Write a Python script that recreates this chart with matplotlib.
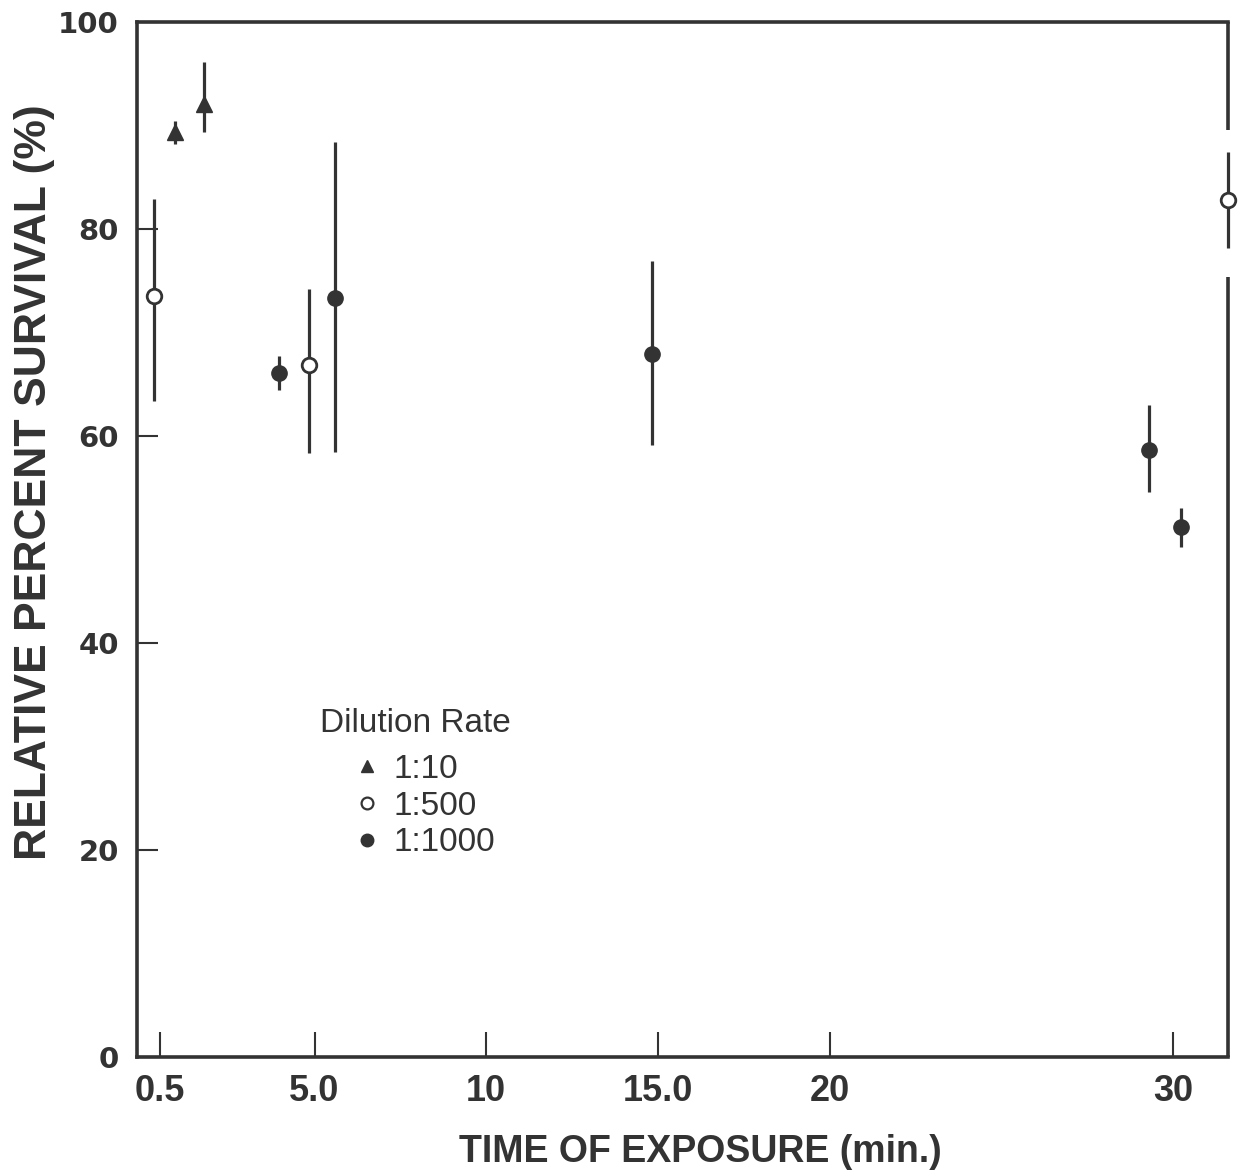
import matplotlib
matplotlib.use("Agg")
import matplotlib.pyplot as plt
from matplotlib.lines import Line2D

# ---- data ----
# Dilution 1:10 (triangles)
x_110 = [0.94, 1.78]
y_110 = [89.4, 92.1]
lo_110 = [88.2, 89.4]
hi_110 = [90.4, 96.1]

# Dilution 1:500 (open circles)
x_1500 = [0.33, 4.84, 31.6]
y_1500 = [73.5, 66.9, 82.8]
lo_1500 = [63.4, 58.4, 78.2]
hi_1500 = [82.9, 74.2, 87.4]

# Dilution 1:1000 (filled circles)
x_11000 = [3.96, 5.6, 14.83, 29.3, 30.23]
y_11000 = [66.1, 73.3, 67.9, 58.6, 51.2]
lo_11000 = [64.4, 58.5, 59.1, 54.6, 49.3]
hi_11000 = [67.7, 88.4, 76.9, 63.0, 53.0]

x_ticks = [0.5, 5.0, 10, 15.0, 20, 30]
x_ticklabels = ["0.5", "5.0", "10", "15.0", "20", "30"]
y_ticks = [0, 20, 40, 60, 80, 100]
y_ticklabels = ["0", "20", "40", "60", "80", "100"]

legend_title = "Dilution Rate"
legend_labels = ["1:10", "1:500", "1:1000"]

INK = "#333333"

fig = plt.figure(figsize=(12.4, 11.75), dpi=100)
ax = fig.add_axes([137 / 1240, 1 - 1057 / 1175, (1228 - 137) / 1240, (1057 - 22) / 1175])


def errs(y, lo, hi):
    return [[a - b for a, b in zip(y, lo)], [c - a for a, c in zip(y, hi)]]


common = dict(ls="none", ecolor=INK, elinewidth=2.3, capsize=0, clip_on=False, zorder=3)
e1 = ax.errorbar(x_110, y_110, yerr=errs(y_110, lo_110, hi_110), marker="^", ms=11,
                 mfc=INK, mec=INK, **common)
e2 = ax.errorbar(x_1500, y_1500, yerr=errs(y_1500, lo_1500, hi_1500), marker="o", ms=10.5,
                 mfc="white", mec=INK, mew=2.0, **common)
e3 = ax.errorbar(x_11000, y_11000, yerr=errs(y_11000, lo_11000, hi_11000), marker="o", ms=11,
                 mfc=INK, mec=INK, **common)
for c in (e1, e2, e3):
    for ln in c.lines[2]:
        ln.set_clip_on(False)

ax.set_xlim(-0.17, 31.6)
ax.set_ylim(0, 100)

# spines
for side in ("left", "bottom", "top"):
    ax.spines[side].set_linewidth(2.6)
    ax.spines[side].set_color(INK)
ax.spines["right"].set_visible(False)
tr = ax.get_yaxis_transform()
ax.plot([1, 1], [0, 75.4], transform=tr, color=INK, lw=2.6, clip_on=False, solid_capstyle="butt")
ax.plot([1, 1], [89.6, 100], transform=tr, color=INK, lw=2.6, clip_on=False, solid_capstyle="butt")

ax.set_xticks(x_ticks)
ax.set_xticklabels(x_ticklabels, fontfamily="Liberation Sans", fontweight="bold", fontsize=26, color=INK)
ax.set_yticks(y_ticks)
ax.set_yticklabels(y_ticklabels, fontfamily="DejaVu Sans", fontweight="bold", fontsize=21, color=INK)
ax.tick_params(axis="x", direction="in", length=18, width=1.5, color=INK, pad=12)
ax.tick_params(axis="y", direction="in", length=15, width=1.5, color=INK, pad=13)

ax.set_xlabel("TIME OF EXPOSURE (min.)", fontfamily="Liberation Sans", fontweight="bold",
              fontsize=27, color=INK)
ax.xaxis.set_label_coords(0.516, -0.0745)
ax.set_ylabel("RELATIVE PERCENT SURVIVAL (%)", fontfamily="Liberation Sans", fontweight="bold",
              fontsize=32, color=INK)
ax.yaxis.set_label_coords(-0.075, 0.555)

# legend
ax.text((320 - 137) / 1091, (1057 - 732) / 1035, legend_title, transform=ax.transAxes,
        fontfamily="Liberation Sans", fontsize=24, color=INK, va="baseline", ha="left")
handles = [
    Line2D([], [], ls="none", marker="^", ms=9, mfc=INK, mec=INK),
    Line2D([], [], ls="none", marker="o", ms=8.5, mfc="white", mec=INK, mew=1.6),
    Line2D([], [], ls="none", marker="o", ms=9, mfc=INK, mec=INK),
]
leg = ax.legend(handles, legend_labels, loc="upper left",
                bbox_to_anchor=((354 - 137) / 1091, (1057 - 754) / 1035),
                frameon=False, borderpad=0, borderaxespad=0, handlelength=0.8,
                handletextpad=0.4, labelspacing=0.17,
                prop={"family": "Liberation Sans", "size": 24})
for t in leg.get_texts():
    t.set_color(INK)

fig.savefig("out.png", dpi=100)
